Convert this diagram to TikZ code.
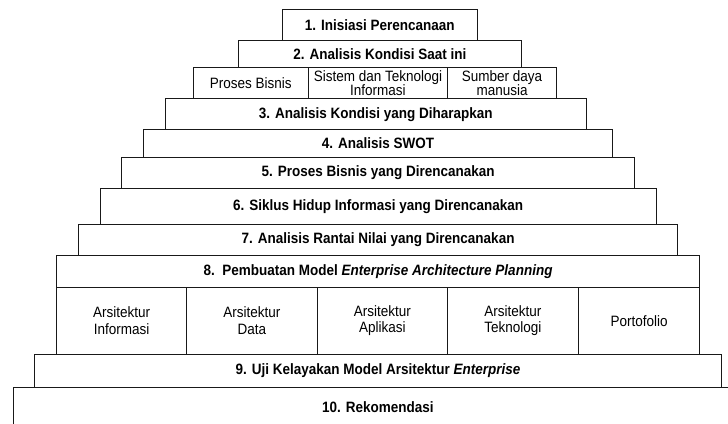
\documentclass[tikz,border=0pt]{standalone}
\usepackage{fontspec}
\setmainfont[FakeStretch=0.9]{Liberation Sans}
\begin{document}
\begin{tikzpicture}[x=1pt,y=-1pt,
  box/.style={draw=black!90, line width=0.9pt, inner sep=0pt, anchor=north west, align=center},
  lvl/.style={box, font=\bfseries\fontsize{15}{16}\selectfont},
  sub/.style={box, font=\fontsize{15}{14.5}\selectfont},
  arch/.style={box, font=\fontsize{15}{16.5}\selectfont, minimum height=67.3pt}]
\useasboundingbox (0,0) rectangle (728,423);
\clip (0,0) rectangle (728,423);
\node[lvl, minimum width=195.3pt, minimum height=31.3pt] (b1) at (281.7,9) {1. Inisiasi Perencanaan};
\node[lvl, minimum width=282.4pt, minimum height=26.4pt] (b2) at (238.3,40.3) {2. Analisis Kondisi Saat ini};
\node[sub, minimum width=114.7pt, minimum height=31.6pt] (s1) at (193,66.7) {Proses Bisnis};
\node[sub, minimum width=139.6pt, minimum height=31.6pt] (s2) at (307.7,66.7) {Sistem dan Teknologi\\Informasi};
\node[sub, minimum width=108.7pt, minimum height=31.6pt] (s3) at (447.3,66.7) {Sumber daya\\manusia};
\node[lvl, minimum width=421.3pt, minimum height=31pt] (b3) at (164.7,98.3) {3. Analisis Kondisi yang Diharapkan};
\node[lvl, minimum width=469.3pt, minimum height=27.4pt] (b4) at (143,129.3) {4. Analisis SWOT};
\node[lvl, minimum width=512.7pt, minimum height=31pt] (b5) at (121.3,156.7) {5. Proses Bisnis yang Direncanakan};
\node[lvl, minimum width=555.8pt, minimum height=36.3pt] (b6) at (99.7,187.7) {6. Siklus Hidup Informasi yang Direncanakan};
\node[lvl, minimum width=599.3pt, minimum height=31.3pt] (b7) at (78,224) {7. Analisis Rantai Nilai yang Direncanakan};
\node[lvl, minimum width=643.3pt, minimum height=31.4pt] (b8) at (56,255.3) {8.\ \ Pembuatan Model \textit{Enterprise Architecture Planning}};
\node[arch, minimum width=130.3pt] (a1) at (56,286.7) {Arsitektur\\Informasi};
\node[arch, minimum width=130.4pt] (a2) at (186.3,286.7) {Arsitektur\\Data};
\node[arch, minimum width=130.3pt] (a3) at (316.7,286.7) {Arsitektur\\Aplikasi};
\node[arch, minimum width=131pt] (a4) at (447,286.7) {Arsitektur\\Teknologi};
\node[arch, minimum width=121.3pt] (a5) at (578,286.7) {Portofolio};
\node[lvl, minimum width=686.4pt, minimum height=33.3pt] (b9) at (34.3,354) {9. Uji Kelayakan Model Arsitektur \textit{Enterprise}};
\node[lvl, minimum width=729.6pt, minimum height=38.7pt] (b10) at (12.7,387.3) {10. Rekomendasi};
\end{tikzpicture}
\end{document}
